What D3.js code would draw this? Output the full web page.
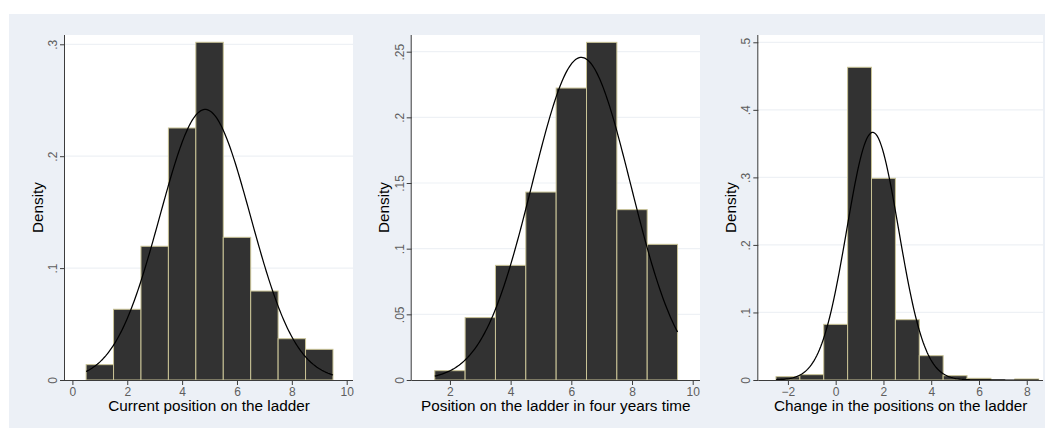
<!DOCTYPE html>
<html>
<head>
<meta charset="utf-8">
<script src="https://cdn.jsdelivr.net/npm/d3@7"></script>
<style>
  html, body { margin: 0; padding: 0; background: #ffffff; }
  svg { display: block; font-family: "Liberation Sans", Arial, sans-serif; }
</style>
</head>
<body>
<svg id="chart" width="1053" height="428"></svg>
<script>
// Histogram densities (bin width 1, bins centred on integers)
const currentBins = [1, 2, 3, 4, 5, 6, 7, 8, 9];
const currentDensity = [0.0137, 0.0632, 0.1195, 0.2252, 0.3018, 0.1275, 0.0795, 0.0369, 0.0274];
const currentXTicks = [0, 2, 4, 6, 8, 10];
const currentYTicks = [0, 0.1, 0.2, 0.3];
const currentYLabels = ["0", ".1", ".2", ".3"];
const currentNormal = { mean: 4.84, sd: 1.65, min: 0.5, max: 9.5 };

const futureBins = [2, 3, 4, 5, 6, 7, 8, 9];
const futureDensity = [0.0071, 0.0475, 0.0873, 0.1431, 0.2223, 0.2571, 0.1297, 0.1033];
const futureXTicks = [2, 4, 6, 8, 10];
const futureYTicks = [0, 0.05, 0.1, 0.15, 0.2, 0.25];
const futureYLabels = ["0", ".05", ".1", ".15", ".2", ".25"];
const futureNormal = { mean: 6.33, sd: 1.624, min: 1.5, max: 9.5 };

const changeBins = [-2, -1, 0, 1, 2, 3, 4, 5, 6, 7, 8];
const changeDensity = [0.0049, 0.0079, 0.0824, 0.463, 0.2986, 0.0893, 0.036, 0.0064, 0.0025, 0, 0.0015];
const changeXTicks = [-2, 0, 2, 4, 6, 8];
const changeYTicks = [0, 0.1, 0.2, 0.3, 0.4, 0.5];
const changeYLabels = ["0", ".1", ".2", ".3", ".4", ".5"];
const changeNormal = { mean: 1.55, sd: 1.088, min: -2.5, max: 8.5 };

const titles = [
  "Current position on the ladder",
  "Position on the ladder in four years time",
  "Change in the positions on the ladder"
];

const panels = [
  { bins: currentBins, dens: currentDensity, xTicks: currentXTicks, yTicks: currentYTicks, yLabels: currentYLabels,
    normal: currentNormal, title: titles[0],
    left: 65, right: 353, xDomain: [-0.27, 10.23], yDomain: [0, 0.3083] },
  { bins: futureBins, dens: futureDensity, xTicks: futureXTicks, yTicks: futureYTicks, yLabels: futureYLabels,
    normal: futureNormal, title: titles[1],
    left: 411.7, right: 700, xDomain: [0.74, 10.24], yDomain: [0, 0.2627] },
  { bins: changeBins, dens: changeDensity, xTicks: changeXTicks, yTicks: changeYTicks, yLabels: changeYLabels,
    normal: changeNormal, title: titles[2],
    left: 758.3, right: 1043, xDomain: [-3.24, 8.68], yDomain: [0, 0.5108] }
];

const plotTop = 35, plotBottom = 380;
const svg = d3.select("#chart");

// Outer graph region
svg.append("rect").attr("x", 9).attr("y", 14).attr("width", 1036).attr("height", 414).attr("fill", "#ecf0f6");

function normalPdf(x, m, s) {
  return Math.exp(-0.5 * ((x - m) / s) ** 2) / (s * Math.sqrt(2 * Math.PI));
}

panels.forEach(p => {
  const x = d3.scaleLinear().domain(p.xDomain).range([p.left, p.right]);
  const y = d3.scaleLinear().domain(p.yDomain).range([plotBottom, plotTop]);
  const g = svg.append("g");

  // Plot region
  g.append("rect").attr("x", p.left).attr("y", plotTop)
    .attr("width", p.right - p.left).attr("height", plotBottom - plotTop).attr("fill", "#ffffff");

  // Horizontal grid lines
  g.selectAll("line.grid").data(p.yTicks.filter(v => v > 0)).join("line")
    .attr("x1", p.left).attr("x2", p.right)
    .attr("y1", d => y(d)).attr("y2", d => y(d))
    .attr("stroke", "#eef1f5").attr("stroke-width", 1.2);

  // Bars
  g.selectAll("rect.bar").data(p.bins.map((b, i) => ({ b, d: p.dens[i] })).filter(d => d.d > 0)).join("rect")
    .attr("x", d => x(d.b - 0.5)).attr("width", d => x(d.b + 0.5) - x(d.b - 0.5))
    .attr("y", d => y(d.d)).attr("height", d => plotBottom - y(d.d))
    .attr("fill", "#323232").attr("stroke", "#c9c396").attr("stroke-width", 1);

  // Normal density overlay
  const n = p.normal;
  const pts = d3.range(0, 201).map(i => {
    const xv = n.min + (n.max - n.min) * i / 200;
    return [xv, normalPdf(xv, n.mean, n.sd)];
  });
  g.append("path").datum(pts)
    .attr("d", d3.line().x(d => x(d[0])).y(d => y(d[1])))
    .attr("fill", "none").attr("stroke", "#000").attr("stroke-width", 1.25);

  // Axes
  const xAxis = d3.axisBottom(x).tickValues(p.xTicks).tickSize(5).tickPadding(2).tickFormat(d3.format("d"));
  const xg = g.append("g").attr("transform", `translate(0,${plotBottom})`).call(xAxis);
  xg.attr("font-size", 12).attr("font-family", "Liberation Sans, Arial, sans-serif");
  xg.select(".domain").attr("d", `M${p.left},0.5H${p.right}`).attr("stroke", "#3c3c3c");
  xg.selectAll(".tick line").attr("stroke", "#3c3c3c");
  xg.selectAll(".tick text").attr("fill", "#5e5e5e");

  const yAxis = d3.axisLeft(y).tickValues(p.yTicks).tickSize(5).tickFormat((d, i) => p.yLabels[i]);
  const yg = g.append("g").attr("transform", `translate(${p.left},0)`).call(yAxis);
  yg.attr("font-size", 12).attr("font-family", "Liberation Sans, Arial, sans-serif");
  yg.select(".domain").attr("d", `M-0.5,${plotTop}V${plotBottom}`).attr("stroke", "#3c3c3c");
  yg.selectAll(".tick line").attr("stroke", "#3c3c3c");
  yg.selectAll(".tick text")
    .attr("fill", "#5e5e5e")
    .attr("x", null).attr("dy", null)
    .attr("text-anchor", "middle")
    .attr("transform", "translate(-8,0) rotate(-90)");

  // Axis titles
  g.append("text").attr("x", (p.left + p.right) / 2).attr("y", 411)
    .attr("text-anchor", "middle").attr("font-size", 15.3).attr("fill", "#000").text(p.title);
  g.append("text")
    .attr("transform", `translate(${p.left - 22.5},${(plotTop + plotBottom) / 2}) rotate(-90)`)
    .attr("text-anchor", "middle").attr("font-size", 15.3).attr("fill", "#000").text("Density");
});
</script>
</body>
</html>
